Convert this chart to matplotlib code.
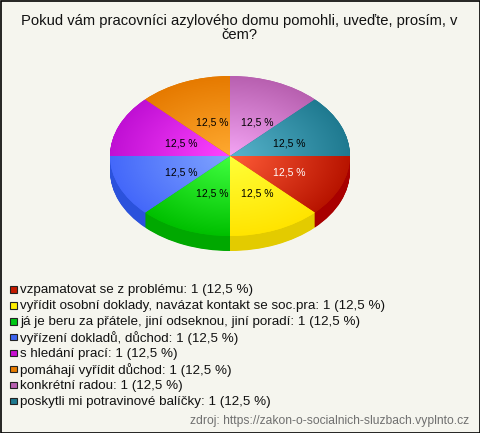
import matplotlib
matplotlib.use("Agg")
import matplotlib.pyplot as plt
from matplotlib.colors import LinearSegmentedColormap
from matplotlib.patches import Rectangle
from matplotlib.transforms import ScaledTranslation
import numpy as np

plt.rcParams["font.family"] = ["Liberation Sans", "DejaVu Sans"]

title = "Pokud vám pracovníci azylového domu pomohli, uveďte, prosím, v\nčem?"
source = "zdroj: https://zakon-o-socialnich-sluzbach.vyplnto.cz"

categories = [
    "vzpamatovat se z problému",
    "vyřídit osobní doklady, navázat kontakt se soc.pra",
    "já je beru za přátele, jiní odseknou, jiní poradí",
    "vyřízení dokladů, důchod",
    "s hledání prací",
    "pomáhají vyřídit důchod",
    "konkrétní radou",
    "poskytli mi potravinové balíčky",
]
values = [1, 1, 1, 1, 1, 1, 1, 1]

inner_colors = ["#ff5c38", "#ffff38", "#40ff40", "#80a4ff", "#ff44ff", "#ffaa30", "#f4a4f4", "#58b4cc"]
outer_colors = ["#b81400", "#ffe400", "#00c000", "#4468fa", "#c010d4", "#e67a00", "#b860b0", "#1f7a90"]
wall_colors = ["#a80000", "#e3cb00", "#00a800", "#2b52dc", "#9000a0", "#b05c00", "#8a4884", "#155c6c"]
legend_colors = ["#c41a00", "#ffee00", "#00c814", "#3c64f0", "#c810d0", "#e87c00", "#b860b0", "#1f7a90"]

W, H = 480, 433
BG = "#f5f5ee"

fig = plt.figure(figsize=(W / 100, H / 100), dpi=100, facecolor=BG)

# pie gets its own axes, stretched so the circle turns into the ellipse
cx, cy, rx, ry, depth = 230, 156, 120, 80, 15
ax = fig.add_axes([(cx - rx) / W, 1 - (cy + ry + depth) / H, 2 * rx / W, (2 * ry + depth) / H])

for d in np.arange(depth, 0, -0.5):
    ax.pie(values, colors=wall_colors, startangle=0, counterclock=False, center=(0, -d / ry))

wedges, _, autotexts = ax.pie(
    values,
    colors=outer_colors,
    startangle=0,
    counterclock=False,
    pctdistance=0.485,
    autopct=lambda p: f"{p:.1f} %".replace(".", ","),
    textprops={"fontsize": 7.5, "color": "black"},
)
autotexts[0].set_color("white")
# labels sit a little right of and below their slice centres
label_shift = ScaledTranslation(5 / 100, -2 / 100, fig.dpi_scale_trans)
for t in autotexts:
    t.set_zorder(5)
    t.set_transform(ax.transData + label_shift)

# radial shading on every slice
xx, yy = np.meshgrid(np.linspace(-1, 1, 300), np.linspace(-1, 1, 300))
rr = np.clip(np.hypot(xx, yy), 0, 1)
for w, c0, c1 in zip(wedges, inner_colors, outer_colors):
    cmap = LinearSegmentedColormap.from_list("slice", [c0, c1])
    im = ax.imshow(rr, cmap=cmap, extent=(-1, 1, -1, 1), origin="lower", aspect="auto", vmin=0, vmax=1, zorder=2)
    im.set_clip_path(w)

ax.set_aspect("auto")
ax.set_xlim(-1, 1)
ax.set_ylim(-1 - depth / ry, 1)
ax.axis("off")

# overlay in pixel coordinates for the texts and the legend
ov = fig.add_axes([0, 0, 1, 1], facecolor="none")
ov.set_xlim(0, W)
ov.set_ylim(H, 0)
ov.axis("off")

ov.text(239, 28, title, ha="center", va="center", fontsize=10.65, color="#111111", linespacing=1.08)

legend_y = [290.5, 306.5, 322.5, 338, 354, 370, 386, 402]
total = sum(values)
for y, name, v, c in zip(legend_y, categories, values, legend_colors):
    ov.add_patch(Rectangle((10, y - 4.5), 6.5, 6.5, facecolor=c, edgecolor="#222222", linewidth=0.8))
    pct = f"{100 * v / total:.1f}".replace(".", ",")
    ov.text(20, y, f"{name}: {v} ({pct} %)", ha="left", va="center", fontsize=9.63, color="#111111")

ov.text(469, 421, source, ha="right", va="center", fontsize=8.7, color="#707070")

ov.add_patch(Rectangle((0.5, 0.5), W - 1, H - 1, fill=False, edgecolor="black", linewidth=1.2))

fig.savefig("out.png", dpi=100, facecolor=BG)
